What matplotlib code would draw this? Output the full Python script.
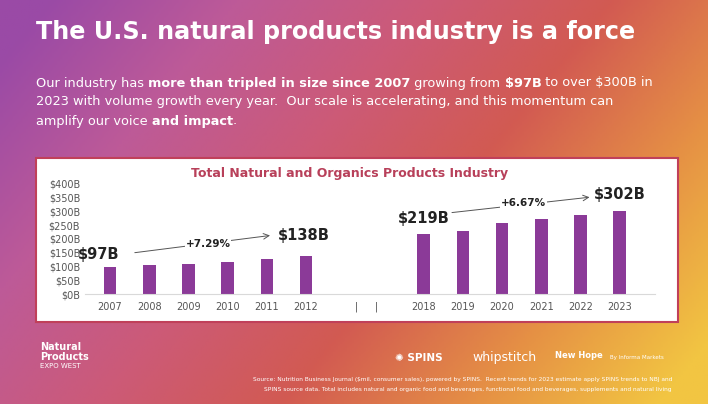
import numpy as np
import matplotlib.pyplot as plt
from matplotlib.patches import Rectangle
from matplotlib.colors import LinearSegmentedColormap

years_a = ["2007", "2008", "2009", "2010", "2011", "2012"]
sales_a = [97, 105, 110, 117, 126, 138]
years_b = ["2018", "2019", "2020", "2021", "2022", "2023"]
sales_b = [219, 230, 258, 273, 288, 302]
y_ticks = [0, 50, 100, 150, 200, 250, 300, 350, 400]

W, H = 708, 404
fig = plt.figure(figsize=(W / 100, H / 100), dpi=100)

# background gradient
bg = fig.add_axes([0, 0, 1, 1])
bg.set_axis_off()
xx, yy = np.meshgrid(np.linspace(0, 1, 300), np.linspace(0, 1, 200))
t = np.clip(0.75 * xx + 0.35 * yy - 0.05, 0, 1)
cmap = LinearSegmentedColormap.from_list("g", ["#9a4aa6", "#bd5a98", "#cc5a78", "#d25a52", "#e58f45", "#f2c542"])
bg.imshow(cmap(t), extent=[0, W, H, 0], aspect="auto")
bg.set_xlim(0, W)
bg.set_ylim(H, 0)

bg.text(36, 32, "The U.S. natural products industry is a force", color="white",
        fontsize=17.2, fontweight="bold", va="center")

fig.canvas.draw()
r = fig.canvas.get_renderer()


def runs(x, y, parts):
    for s, bold in parts:
        tx = bg.text(x, y, s, color="white", fontsize=9.3, va="center",
                     fontweight="bold" if bold else "normal")
        bb = tx.get_window_extent(r)
        x += bb.width


runs(36, 83, [("Our industry has ", False), ("more than tripled in size since 2007", True),
              (" growing from ", False), ("$97B", True), (" to over $300B in", False)])
runs(36, 102, [("2023 with volume growth every year.  Our scale is accelerating, and this momentum can", False)])
runs(36, 121, [("amplify our voice ", False), ("and impact", True), (".", False)])

bg.add_patch(Rectangle((36, 158), 642, 164, facecolor="white", edgecolor="#c0405a", lw=1.5))
bg.text(350, 173, "Total Natural and Organics Products Industry", color="#b8405a",
        fontsize=9, fontweight="bold", ha="center", va="center")

# footer
bg.text(40, 352, "Natural\nProducts", color="white", fontsize=7, fontweight="bold", va="center", linespacing=0.95)
bg.text(40, 366, "EXPO WEST", color="white", fontsize=5, va="center")
bg.text(395, 358, "✺ SPINS", color="white", fontsize=7.5, fontweight="bold", va="center")
bg.text(472, 358, "whipstitch", color="white", fontsize=9, va="center")
bg.text(555, 356, "New Hope", color="white", fontsize=6, fontweight="bold", va="center")
bg.text(610, 357, "By Informa Markets", color="white", fontsize=4, va="center")
bg.text(672, 380, "Source: Nutrition Business Journal ($mil, consumer sales), powered by SPINS.  Recent trends for 2023 estimate apply SPINS trends to NBJ and",
        color="white", fontsize=4.2, ha="right", va="center")
bg.text(672, 389, "SPINS source data. Total includes natural and organic food and beverages, functional food and beverages, supplements and natural living",
        color="white", fontsize=4.2, ha="right", va="center")

# chart
ax = fig.add_axes([85 / W, 1 - 294 / H, 570 / W, 110 / H])
ax.set_facecolor("none")
pos_a = np.arange(len(years_a))
pos_b = np.arange(len(years_b)) + 8
bar_c = "#8b3a98"
ax.bar(pos_a, sales_a, width=0.32, color=bar_c)
ax.bar(pos_b, sales_b, width=0.32, color=bar_c)
ax.set_xticks(list(pos_a) + list(pos_b), years_a + years_b)
ax.set_yticks(y_ticks, [f"${v}B" for v in y_ticks])
ax.set_xlim(-0.64, 13.9)
ax.set_ylim(0, 400)
for s in ["top", "right", "left"]:
    ax.spines[s].set_visible(False)
ax.spines["bottom"].set_color("#d9d9d9")
ax.tick_params(length=0, labelsize=7, colors="#555555")
ax.tick_params(axis="x", pad=6)
for p in [6.27, 6.78]:
    ax.text(p, -45, "|", ha="center", va="center", fontsize=7, color="#444444", clip_on=False)

lab = dict(fontsize=10.5, fontweight="bold", color="#222222", va="center")
ax.text(-0.3, 145, "$97B", ha="center", **lab)
ax.text(4.95, 211, "$138B", ha="center", **lab)
ax.text(8.0, 276, "$219B", ha="center", **lab)
ax.text(13.0, 363, "$302B", ha="center", **lab)
ax.annotate("", xy=(4.15, 214), xytext=(0.56, 149),
            arrowprops=dict(arrowstyle="->", color="#555555", lw=0.7))
ax.annotate("", xy=(12.3, 353), xytext=(8.65, 295),
            arrowprops=dict(arrowstyle="->", color="#555555", lw=0.7))
ax.text(2.5, 182, "+7.29%", ha="center", va="center", fontsize=7.5, fontweight="bold", color="#222222",
        bbox=dict(facecolor="white", edgecolor="none", pad=0.5))
ax.text(10.55, 331, "+6.67%", ha="center", va="center", fontsize=7.5, fontweight="bold", color="#222222",
        bbox=dict(facecolor="white", edgecolor="none", pad=0.5))

fig.savefig("out.png", dpi=100)
